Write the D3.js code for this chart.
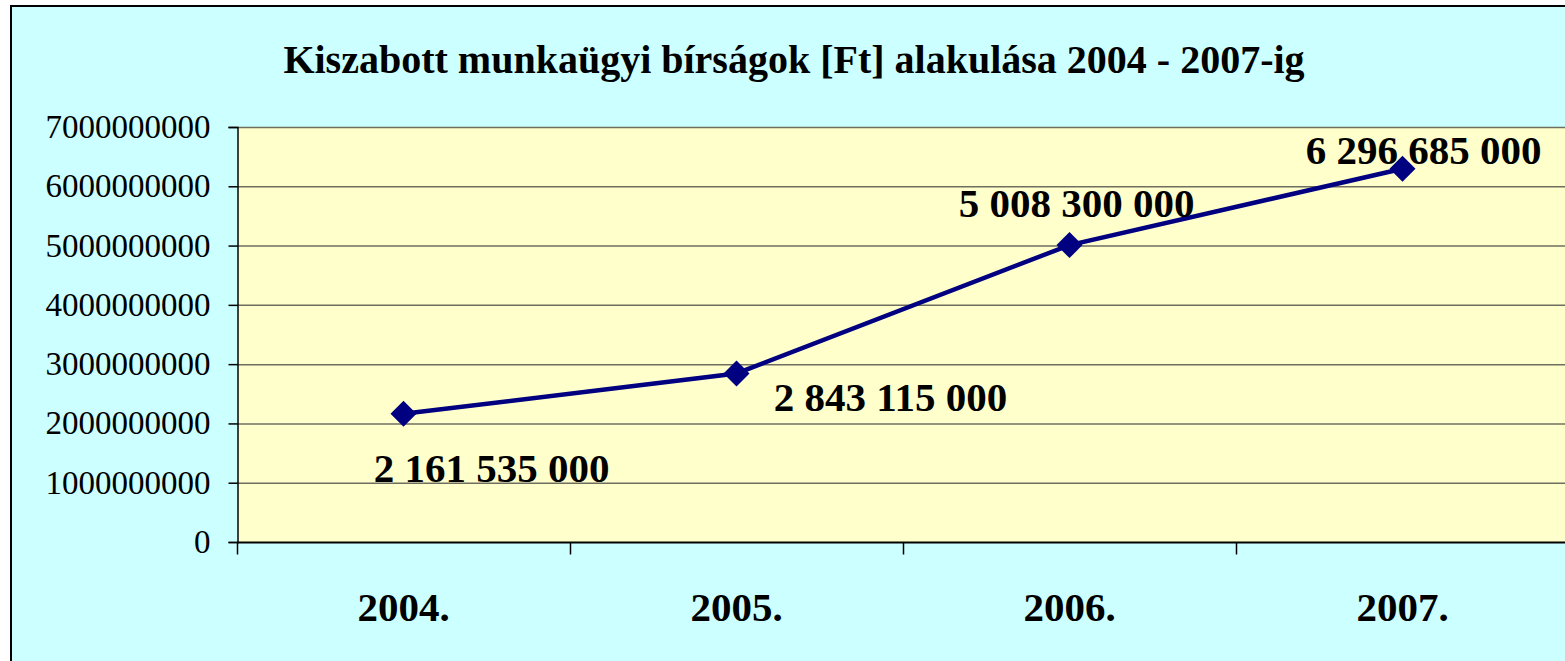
<!DOCTYPE html>
<html>
<head>
<meta charset="utf-8">
<script src="https://cdn.jsdelivr.net/npm/d3@7"></script>
<style>
  body { margin: 0; background: #fff; }
  svg { display: block; }
</style>
</head>
<body>
<svg id="chart" width="1565" height="661"></svg>
<script>
// data
const years = ['2004.', '2005.', '2006.', '2007.'];
const fines = [2161535000, 2843115000, 5008300000, 6296685000];
const valueLabels = ['2 161 535 000', '2 843 115 000', '5 008 300 000', '6 296 685 000'];
const yTicks = [0, 1000000000, 2000000000, 3000000000, 4000000000, 5000000000, 6000000000, 7000000000];
const title = 'Kiszabott munkaügyi bírságok [Ft] alakulása 2004 - 2007-ig';

const W = 1565, H = 661;
const font = '"Liberation Serif", "Times New Roman", serif';
const plot = {left: 237, top: 127, right: 1569, bottom: 542};

const svg = d3.select('#chart');

// outer chart area
svg.append('rect')
  .attr('x', 11).attr('y', 6)
  .attr('width', W + 20).attr('height', H + 20)
  .style('fill', '#ccffff')
  .style('stroke', '#000')
  .style('stroke-width', 2);

svg.append('text')
  .attr('x', 794).attr('y', 73)
  .attr('text-anchor', 'middle')
  .style('font-family', font)
  .style('font-weight', 'bold')
  .style('font-size', '40px')
  .text(title);

const x = d3.scaleBand()
  .domain(years)
  .range([plot.left, plot.right]);

const y = d3.scaleLinear()
  .domain([0, 7000000000])
  .range([plot.bottom, plot.top]);

// plot area
svg.append('rect')
  .attr('x', plot.left).attr('y', plot.top)
  .attr('width', plot.right - plot.left).attr('height', plot.bottom - plot.top)
  .style('fill', '#ffffcc');

// grid lines
svg.append('g')
  .selectAll('line')
  .data(yTicks.slice(1))
  .join('line')
  .attr('x1', plot.left).attr('x2', plot.right)
  .attr('y1', d => y(d) + 0.5).attr('y2', d => y(d) + 0.5)
  .style('stroke', '#6f6f60')
  .style('stroke-width', 1.5);

// y axis
const yAxis = svg.append('g')
  .attr('transform', 'translate(' + (plot.left + 0.5) + ',0)')
  .call(d3.axisLeft(y).tickValues(yTicks).tickFormat(d3.format('d')).tickSize(9).tickPadding(18));
yAxis.select('.domain').style('stroke', '#000').style('stroke-width', 1.5);
yAxis.selectAll('.tick line').style('stroke', '#000').style('stroke-width', 1.5);
yAxis.selectAll('text')
  .style('font-family', font)
  .style('font-size', '33px')
  .style('fill', '#000');

// x axis
const xAxis = svg.append('g')
  .attr('transform', 'translate(0,' + (plot.bottom + 0.5) + ')');
xAxis.append('line')
  .attr('x1', plot.left).attr('x2', plot.right)
  .style('stroke', '#000').style('stroke-width', 2);
xAxis.selectAll('.xtick')
  .data(years)
  .join('line')
  .attr('class', 'xtick')
  .attr('x1', d => x(d) + 0.5).attr('x2', d => x(d) + 0.5)
  .attr('y1', 0).attr('y2', 12)
  .style('stroke', '#000').style('stroke-width', 1.5);
xAxis.selectAll('.xlabel')
  .data(years)
  .join('text')
  .attr('class', 'xlabel')
  .attr('x', d => x(d) + x.bandwidth() / 2)
  .attr('y', 78)
  .attr('text-anchor', 'middle')
  .style('font-family', font)
  .style('font-weight', 'bold')
  .style('font-size', '41px')
  .text(d => d);

// line + markers
const pts = years.map((yr, i) => [x(yr) + x.bandwidth() / 2, y(fines[i])]);

svg.append('path')
  .datum(pts)
  .attr('d', d3.line())
  .style('fill', 'none')
  .style('stroke', '#000080')
  .style('stroke-width', 4.5);

svg.append('g')
  .selectAll('path')
  .data(pts)
  .join('path')
  .attr('transform', d => 'translate(' + d[0] + ',' + d[1] + ')')
  .attr('d', 'M0,-13L13,0L0,13L-13,0Z')
  .style('fill', '#000080');

// value labels, nudged like in the original
const labelShift = [[88, 68], [154, 38], [7, -28], [21, -5]];
svg.append('g')
  .selectAll('text')
  .data(valueLabels)
  .join('text')
  .attr('x', (d, i) => pts[i][0] + labelShift[i][0])
  .attr('y', (d, i) => pts[i][1] + labelShift[i][1])
  .attr('text-anchor', 'middle')
  .style('font-family', font)
  .style('font-weight', 'bold')
  .style('font-size', '41px')
  .text(d => d);
</script>
</body>
</html>
